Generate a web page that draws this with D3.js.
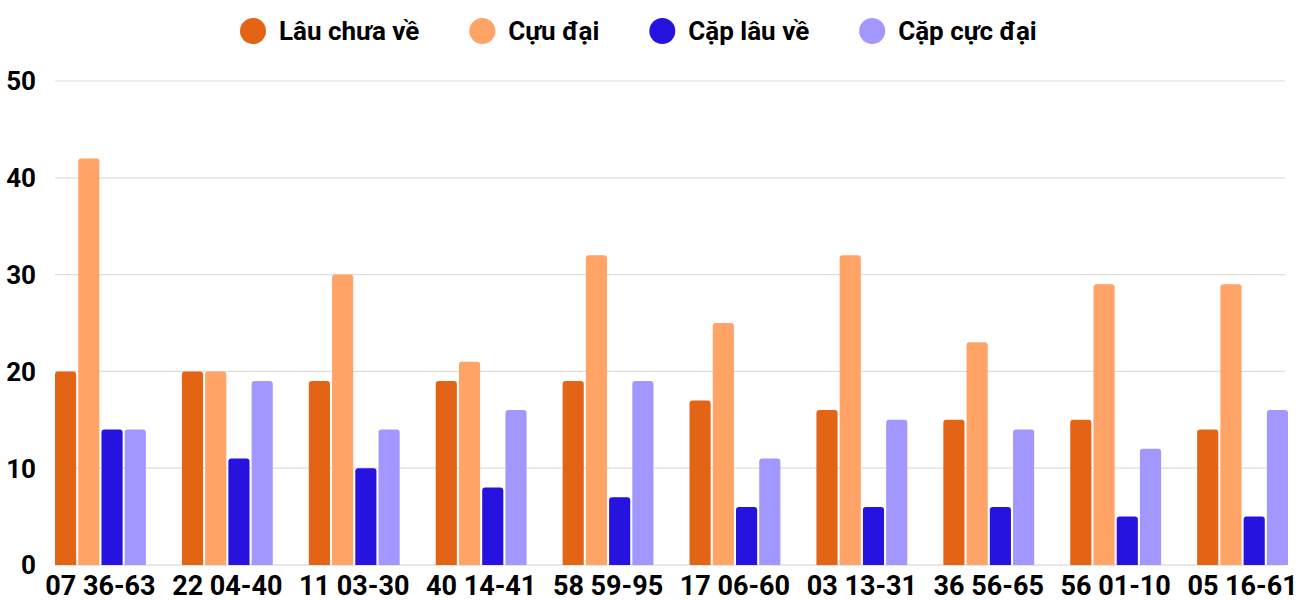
<!DOCTYPE html>
<html>
<head>
<meta charset="utf-8">
<script src="https://cdn.jsdelivr.net/npm/d3@7"></script>
<style>
  body { margin: 0; background: #fff; }
  text { font-family: Roboto, "Noto Sans", sans-serif; font-weight: 700; fill: #000; }
</style>
</head>
<body>
<script>
// data
var categories = ["07 36-63", "22 04-40", "11 03-30", "40 14-41", "58 59-95",
                  "17 06-60", "03 13-31", "36 56-65", "56 01-10", "05 16-61"];
var seriesNames = ["Lâu chưa về", "Cựu đại", "Cặp lâu về", "Cặp cực đại"];
var lauChuaVe  = [20, 20, 19, 19, 19, 17, 16, 15, 15, 14];
var cucDai     = [42, 20, 30, 21, 32, 25, 32, 23, 29, 29];
var capLauVe   = [14, 11, 10, 8, 7, 6, 6, 6, 5, 5];
var capCucDai  = [14, 19, 14, 16, 19, 11, 15, 14, 12, 16];
var yTicks = [0, 10, 20, 30, 40, 50];

var colors = ["#e46416", "#ffa366", "#2613e0", "#a197fe"];
var seriesValues = [lauChuaVe, cucDai, capLauVe, capCucDai];

var chartW = 1300, chartH = 600;
var plotLeft = 55, plotRight = 1288, plotTop = 81, plotBottom = 565;

var svg = d3.select('body').append('svg')
  .attr('width', chartW)
  .attr('height', chartH);

var x0 = d3.scaleBand().domain(categories).range([plotLeft, plotRight])
  .paddingInner(0.284).paddingOuter(0);
var x1 = d3.scaleBand().domain(d3.range(4)).range([0, x0.bandwidth()])
  .paddingInner(0.09);
var y = d3.scaleLinear().domain([0, 50]).range([plotBottom, plotTop]);

// grid
svg.append('g').selectAll('line')
  .data(yTicks)
  .enter().append('line')
  .attr('x1', plotLeft).attr('x2', 1285)
  .attr('y1', function(d) { return y(d); })
  .attr('y2', function(d) { return y(d); })
  .style('stroke', function(d) { return d === 0 ? '#cfcfcf' : '#dedede'; })
  .style('stroke-width', 1.2);

// y labels
svg.append('g').selectAll('text')
  .data(yTicks)
  .enter().append('text')
  .attr('x', 36)
  .attr('y', function(d) { return y(d); })
  .attr('dy', '0.36em')
  .style('text-anchor', 'end')
  .style('font-size', '26px')
  .text(function(d) { return d; });

// bar with rounded top
var barPath = function(bx, by, bw, bh, r) {
  r = Math.min(r, bh, bw / 2);
  return "M" + bx + "," + (by + bh) +
    "V" + (by + r) +
    "Q" + bx + "," + by + " " + (bx + r) + "," + by +
    "H" + (bx + bw - r) +
    "Q" + (bx + bw) + "," + by + " " + (bx + bw) + "," + (by + r) +
    "V" + (by + bh) + "Z";
};

var groups = svg.append('g').selectAll('g')
  .data(categories)
  .enter().append('g')
  .attr('transform', function(d) { return "translate(" + x0(d) + ",0)"; });

groups.selectAll('path')
  .data(function(d, i) {
    return seriesValues.map(function(vals, s) { return { s: s, v: vals[i] }; });
  })
  .enter().append('path')
  .attr('d', function(d) {
    return barPath(x1(d.s), y(d.v), x1.bandwidth(), y(0) - y(d.v), 3);
  })
  .style('fill', function(d) { return colors[d.s]; });

// x labels
svg.append('g').selectAll('text')
  .data(categories)
  .enter().append('text')
  .attr('x', function(d) { return x0(d) + x0.bandwidth() / 2; })
  .attr('y', 595)
  .style('text-anchor', 'middle')
  .style('font-size', '27px')
  .text(function(d) { return d; });

// legend
var legend = svg.append('g');
var lx = 240;
seriesNames.forEach(function(name, i) {
  legend.append('circle')
    .attr('cx', lx + 13).attr('cy', 31).attr('r', 13)
    .style('fill', colors[i]);
  var t = legend.append('text')
    .attr('x', lx + 39).attr('y', 40)
    .style('font-size', '26px')
    .text(name);
  lx += 39 + t.node().getComputedTextLength() + 50;
});
</script>
</body>
</html>
